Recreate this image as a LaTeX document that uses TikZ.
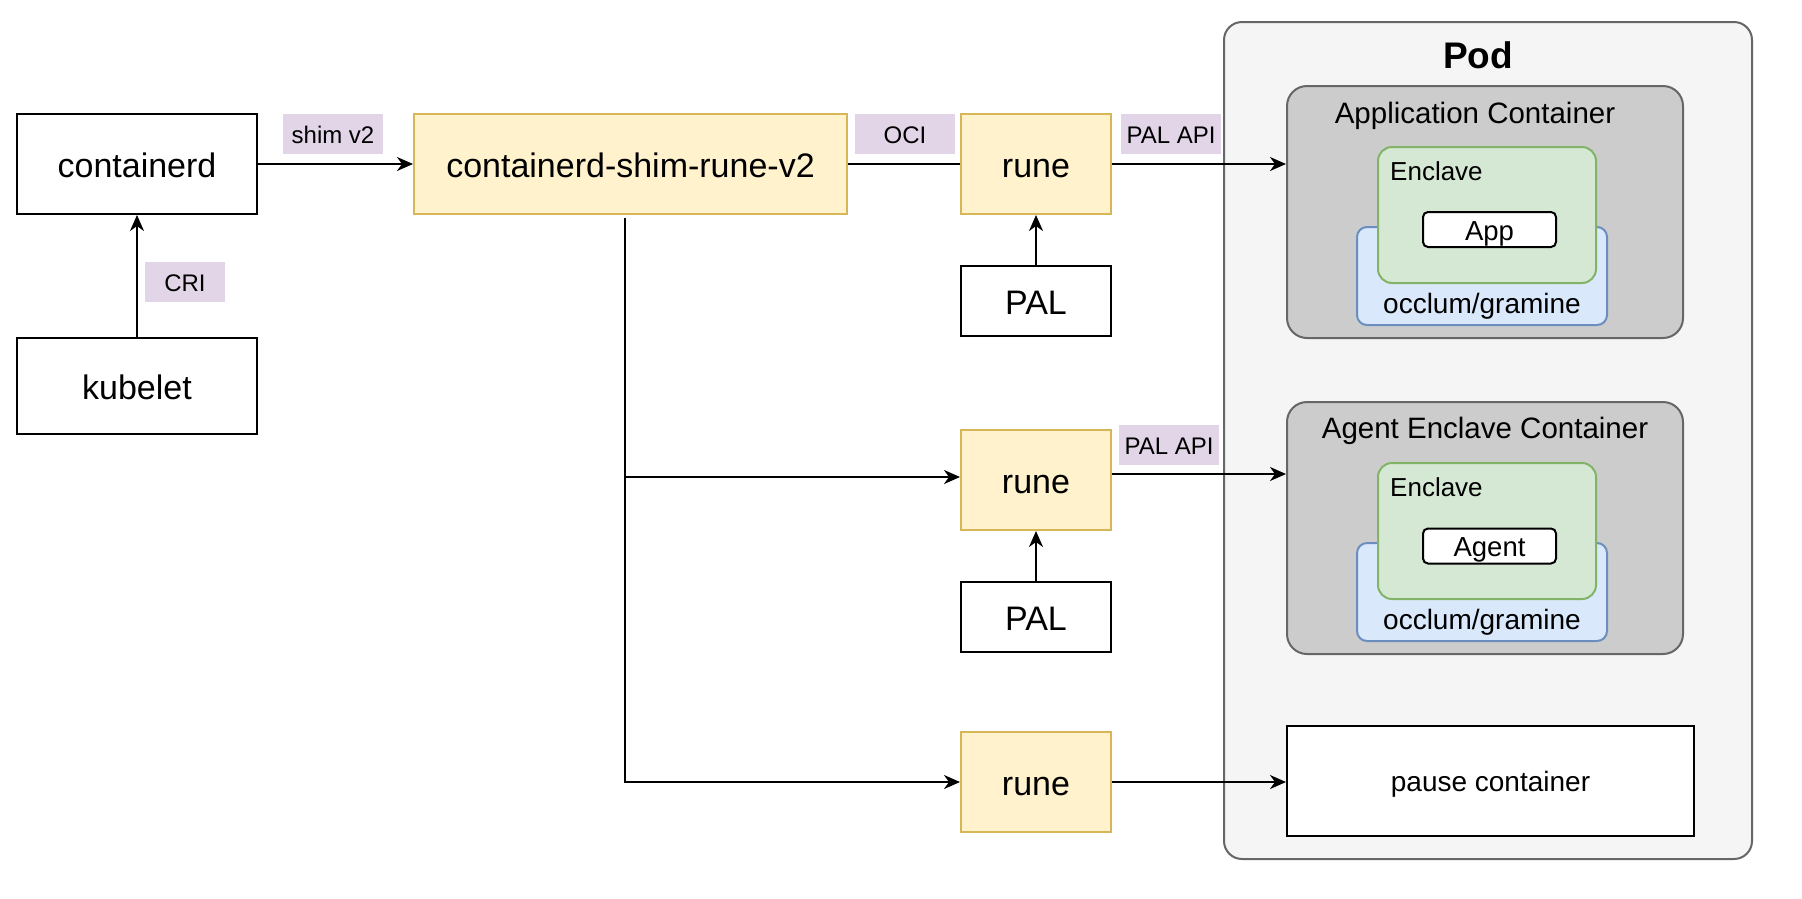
\documentclass[tikz,border=0pt]{standalone}
\usepackage{fontspec}
\setmainfont{Liberation Sans}
\usetikzlibrary{arrows.meta,calc}
\definecolor{yfill}{HTML}{FFF2CC}
\definecolor{ydraw}{HTML}{D6B656}
\definecolor{lblbg}{HTML}{E1D5E7}
\definecolor{podfill}{HTML}{F5F5F5}
\definecolor{graydraw}{HTML}{666666}
\definecolor{contfill}{HTML}{CCCCCC}
\definecolor{gfill}{HTML}{D5E8D4}
\definecolor{gdraw}{HTML}{82B366}
\definecolor{bfill}{HTML}{DAE8FC}
\definecolor{bdraw}{HTML}{6C8EBF}
\tikzset{
  big/.style={font=\fontsize{34}{40}\selectfont, text height=33.3pt, text depth=6.8pt},
  mid/.style={font=\fontsize{29.5}{35}\selectfont, text height=28.9pt, text depth=5.9pt},
  sml/.style={font=\fontsize{26}{31}\selectfont, text height=25.5pt, text depth=5.2pt},
  smx/.style={font=\fontsize{28}{33}\selectfont, text height=27.4pt, text depth=5.6pt},
  inner/.style={font=\fontsize{27.5}{33}\selectfont, text height=26.9pt, text depth=5.5pt},
  lbl/.style={font=\fontsize{24}{29}\selectfont, text height=23.5pt, text depth=4.8pt},
  plainbox/.style={draw=black, line width=2pt, fill=white, inner sep=0pt, big},
  ybox/.style={draw=ydraw, line width=2pt, fill=yfill, inner sep=0pt, big},
  tag/.style={fill=lblbg, inner sep=0pt, minimum width=100pt, minimum height=40pt, lbl},
  podbox/.style={draw=graydraw, line width=2pt, fill=podfill, rounded corners=18pt, inner sep=0pt},
  contbox/.style={draw=graydraw, line width=2pt, fill=contfill, rounded corners=20pt, inner sep=0pt},
  encbox/.style={draw=gdraw, line width=2pt, fill=gfill, rounded corners=14pt, inner sep=0pt},
  libbox/.style={draw=bdraw, line width=2pt, fill=bfill, rounded corners=10pt, inner sep=0pt},
  appbox/.style={draw=black, line width=2pt, fill=white, rounded corners=5pt, inner sep=0pt, inner, minimum width=133pt, minimum height=35pt},
  conn/.style={line width=2pt, draw=black},
  arr/.style={conn, -{Stealth[length=16pt,width=14pt,inset=5pt]}},
  txt/.style={inner sep=0pt}
}
\begin{document}
\begin{tikzpicture}[x=1pt,y=-1pt]
\useasboundingbox (0,0) rectangle (1802,898);
\fill[white] (0,0) rectangle (1802,898);

% Pod
\node[podbox, minimum width=528pt, minimum height=837pt] (pod) at (1488,440.5) {};
\node[txt, font=\bfseries\fontsize{37}{44}\selectfont, text height=36.3pt, text depth=7.4pt] (podt) at (1478,54) {Pod};

% Application container
\node[contbox, minimum width=396pt, minimum height=252pt] (appc) at (1485,212) {};
\node[txt, mid] (appct) at (1475,112) {Application Container};
\node[libbox, minimum width=250pt, minimum height=98pt] (lib1) at (1482,276) {};
\node[encbox, minimum width=218pt, minimum height=136pt] (enc1) at (1487,215) {};
\node[txt, sml, anchor=west] (enc1t) at (1390,170) {Enclave};
\node[appbox] (app) at (1489.5,229.5) {App};
\node[txt, smx] (lib1t) at (1482,303) {occlum/gramine};

% Agent enclave container
\node[contbox, minimum width=396pt, minimum height=252pt] (agc) at (1485,528) {};
\node[txt, mid] (agct) at (1485,427) {Agent Enclave Container};
\node[libbox, minimum width=250pt, minimum height=98pt] (lib2) at (1482,592) {};
\node[encbox, minimum width=218pt, minimum height=136pt] (enc2) at (1487,531) {};
\node[txt, sml, anchor=west] (enc2t) at (1390,486.5) {Enclave};
\node[appbox] (agent) at (1489.5,546) {Agent};
\node[txt, smx] (lib2t) at (1482,619) {occlum/gramine};

% pause container
\node[plainbox, smx, minimum width=407pt, minimum height=110pt] (pause) at (1490.5,781) {pause container};

% left part
\node[plainbox, minimum width=240pt, minimum height=100pt] (containerd) at (137,164) {containerd};
\node[plainbox, minimum width=240pt, minimum height=96pt] (kubelet) at (137,386) {kubelet};
\node[ybox, minimum width=433pt, minimum height=100pt] (shim) at (630.5,164) {containerd-shim-rune-v2};

\node[ybox, minimum width=150pt, minimum height=100pt] (rune1) at (1036,164) {rune};
\node[plainbox, minimum width=150pt, minimum height=70pt] (pal1) at (1036,301) {PAL};
\node[ybox, minimum width=150pt, minimum height=100pt] (rune2) at (1036,480) {rune};
\node[plainbox, minimum width=150pt, minimum height=70pt] (pal2) at (1036,617) {PAL};
\node[ybox, minimum width=150pt, minimum height=100pt] (rune3) at (1036,782) {rune};

% labels
\node[tag] (tshim) at (333,134) {shim v2};
\node[tag, minimum width=80pt] (tcri) at (185,282) {CRI};
\node[tag] (toci) at (905,134) {OCI};
\node[tag] (tpal1) at (1171,134) {PAL API};
\node[tag] (tpal2) at (1169,445) {PAL API};

% connectors
\coordinate (s1) at (625,218);
\coordinate (j2) at (625,477);
\draw[arr] (containerd.east) -- (shim.west);
\draw[arr] (kubelet.north) -- (containerd.south);
\draw[conn] (shim.east) -- (rune1.west);
\draw[arr] (rune1.east) -- (rune1.east -| appc.west);
\draw[arr] (pal1.north) -- (rune1.south);
\draw[arr] (s1) |- (rune3.west);
\draw[arr] (j2) -- (j2 -| rune2.west);
\draw[arr] ([yshift=6pt]rune2.east) -- ([yshift=6pt]rune2.east -| agc.west);
\draw[arr] (pal2.north) -- (rune2.south);
\draw[arr] (rune3.east) -- (rune3.east -| pause.west);
\end{tikzpicture}
\end{document}
